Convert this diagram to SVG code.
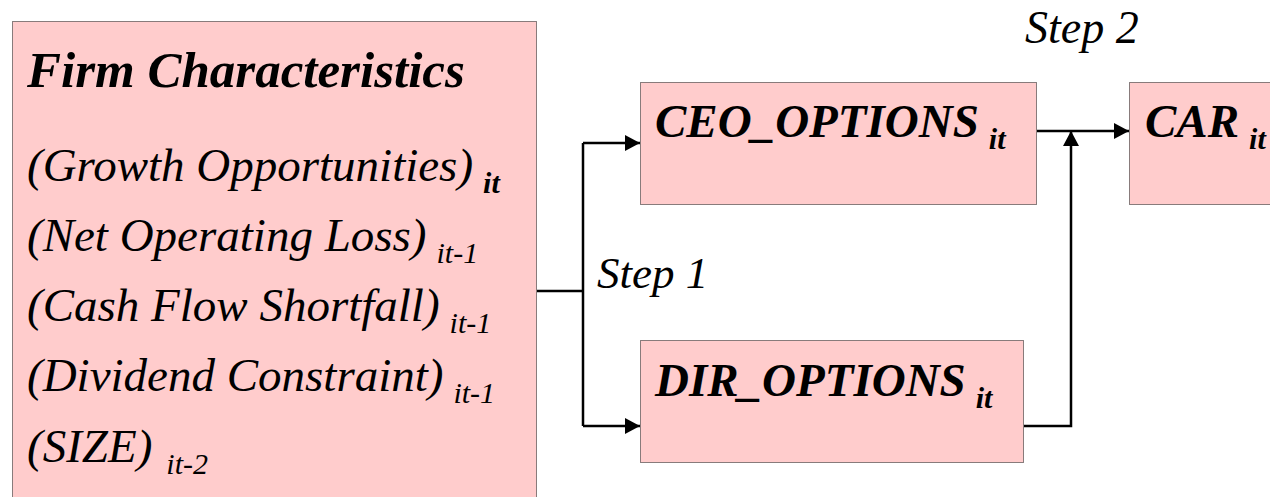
<svg xmlns="http://www.w3.org/2000/svg" width="1270" height="497" viewBox="0 0 1270 497">
<style>
.box{fill:#FFCCCC;stroke:#111;stroke-width:1;stroke-dasharray:1 1}
text{font-family:'Liberation Serif','Times New Roman',Times,serif;font-style:italic;fill:#000}
.b{font-weight:bold}
.con{fill:none;stroke:#000;stroke-width:2.5}
</style>
<defs>
<marker id="ah" markerUnits="userSpaceOnUse" markerWidth="16" markerHeight="16" viewBox="0 0 16 16" refX="15" refY="8" orient="auto">
<path d="M0,0 L15,8 L0,16 Z" fill="#000"/>
</marker>
</defs>
<g id="firm">
<rect class="box" x="12.5" y="21.5" width="524" height="490"/>
<text class="b" x="27" y="87" font-size="51">Firm Characteristics</text>
<text x="27" y="181" font-size="47">(Growth Opportunities)<tspan class="b" font-size="30" dx="10" dy="12">it</tspan></text>
<text x="27" y="251" font-size="47">(Net Operating Loss)<tspan font-size="30" dx="10" dy="12">it-1</tspan></text>
<text x="27" y="321" font-size="47">(Cash Flow Shortfall)<tspan font-size="30" dx="10" dy="12">it-1</tspan></text>
<text x="27" y="391" font-size="47">(Dividend Constraint)<tspan font-size="30" dx="10" dy="12">it-1</tspan></text>
<text x="27" y="462" font-size="47">(SIZE)<tspan font-size="30" dx="14" dy="12">it-2</tspan></text>
</g>
<g id="ceo">
<rect class="box" x="640.5" y="82.5" width="396" height="122"/>
<text class="b" x="655" y="137" font-size="47">CEO_OPTIONS<tspan font-size="30" dx="10" dy="12">it</tspan></text>
</g>
<g id="dir">
<rect class="box" x="640.5" y="340.5" width="383" height="122"/>
<text class="b" x="655" y="396" font-size="47">DIR_OPTIONS<tspan font-size="30" dx="10" dy="12">it</tspan></text>
</g>
<g id="car">
<rect class="box" x="1129.5" y="82.5" width="200" height="122"/>
<text class="b" x="1145" y="137" font-size="47">CAR<tspan font-size="30" dx="10" dy="12">it</tspan></text>
</g>
<g id="labels">
<text x="597" y="288" font-size="45">Step 1</text>
<text x="1025" y="43" font-size="46">Step 2</text>
</g>
<g id="connectors">
<path class="con" d="M537,291 H583"/>
<path class="con" d="M583,143 V426"/>
<path class="con" d="M583,143 H640" marker-end="url(#ah)"/>
<path class="con" d="M583,426 H640" marker-end="url(#ah)"/>
<path class="con" d="M1037,131 H1129" marker-end="url(#ah)"/>
<path class="con" d="M1024,426 H1071 V131" marker-end="url(#ah)"/>
</g>
</svg>
